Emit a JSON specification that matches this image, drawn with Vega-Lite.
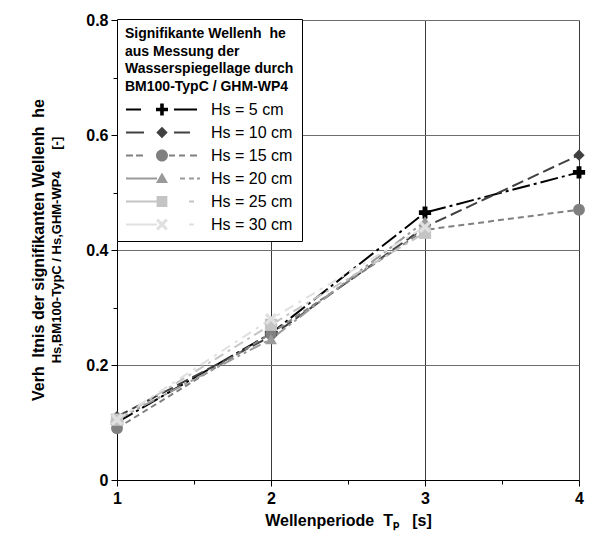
{
  "$schema": "https://vega.github.io/schema/vega-lite/v6.json",
  "width": 462,
  "height": 460,
  "autosize": "none",
  "padding": {"left": 117, "top": 20, "right": 16, "bottom": 58},
  "background": "white",
  "config": {
    "font": "Liberation Sans",
    "view": {"stroke": null},
    "legend": {
      "orient": "none",
      "legendX": 0,
      "legendY": -1,
      "titleFontSize": 14,
      "titleFontWeight": "bold",
      "titleColor": "black",
      "titleFont": "Liberation Sans",
      "titleLineHeight": 17.5,
      "titleLimit": 400,
      "titlePadding": 8,
      "labelFontSize": 16,
      "labelColor": "black",
      "labelFont": "Liberation Sans",
      "labelOffset": 70,
      "labelLimit": 200,
      "symbolSize": 144,
      "symbolStrokeWidth": 0,
      "symbolOpacity": 1,
      "strokeColor": "black",
      "fillColor": "white",
      "padding": 8,
      "rowPadding": 7,
      "cornerRadius": 0
    }
  },
  "title": {
    "text": "Verh\u00a0\u00a0ltnis der signifikanten Wellenh\u00a0\u00a0he",
    "subtitle": "Hs,BM100-TypC / Hs,GHM-WP4\u00a0\u00a0\u00a0\u00a0\u00a0\u00a0[-]",
    "orient": "left",
    "anchor": "middle",
    "font": "Liberation Sans",
    "fontSize": 16,
    "fontWeight": "bold",
    "color": "black",
    "subtitleFont": "Liberation Sans",
    "subtitleFontSize": 13,
    "subtitleFontWeight": "bold",
    "subtitleColor": "black",
    "subtitlePadding": 4,
    "offset": 22
  },
  "resolve": {"legend": {"color": "independent", "shape": "independent"}},
  "data": {
    "values": [
      {"T": 1, "V": 0.100, "Hs": "Hs = 5 cm"},
      {"T": 2, "V": 0.255, "Hs": "Hs = 5 cm"},
      {"T": 3, "V": 0.465, "Hs": "Hs = 5 cm"},
      {"T": 4, "V": 0.535, "Hs": "Hs = 5 cm"},
      {"T": 1, "V": 0.110, "Hs": "Hs = 10 cm"},
      {"T": 2, "V": 0.250, "Hs": "Hs = 10 cm"},
      {"T": 3, "V": 0.440, "Hs": "Hs = 10 cm"},
      {"T": 4, "V": 0.565, "Hs": "Hs = 10 cm"},
      {"T": 1, "V": 0.090, "Hs": "Hs = 15 cm"},
      {"T": 2, "V": 0.255, "Hs": "Hs = 15 cm"},
      {"T": 3, "V": 0.435, "Hs": "Hs = 15 cm"},
      {"T": 4, "V": 0.470, "Hs": "Hs = 15 cm"},
      {"T": 1, "V": 0.105, "Hs": "Hs = 20 cm"},
      {"T": 2, "V": 0.245, "Hs": "Hs = 20 cm"},
      {"T": 3, "V": 0.450, "Hs": "Hs = 20 cm"},
      {"T": 1, "V": 0.105, "Hs": "Hs = 25 cm"},
      {"T": 2, "V": 0.270, "Hs": "Hs = 25 cm"},
      {"T": 3, "V": 0.430, "Hs": "Hs = 25 cm"},
      {"T": 1, "V": 0.105, "Hs": "Hs = 30 cm"},
      {"T": 2, "V": 0.280, "Hs": "Hs = 30 cm"},
      {"T": 3, "V": 0.440, "Hs": "Hs = 30 cm"}
    ]
  },
  "encoding": {
    "x": {
      "field": "T",
      "type": "quantitative",
      "scale": {"domain": [1, 4], "nice": false, "zero": false},
      "axis": {
        "title": "Wellenperiode\u00a0\u00a0Tₚ\u00a0\u00a0\u00a0[s]",
        "titleFont": "Liberation Sans",
        "titleFontSize": 16,
        "titleFontWeight": "bold",
        "titleColor": "black",
        "titlePadding": 6,
        "values": [1, 1.5, 2, 2.5, 3, 3.5, 4],
        "labelExpr": "datum.value % 1 == 0 ? format(datum.value, 'd') : ''",
        "labelFont": "Liberation Sans",
        "labelFontSize": 16,
        "labelFontWeight": "bold",
        "labelColor": "black",
        "labelPadding": 4,
        "labelFlush": false,
        "labelOverlap": false,
        "domainColor": "black",
        "domainWidth": 1,
        "tickColor": "black",
        "tickSize": {"condition": {"test": "datum.value % 1 != 0", "value": 4}, "value": 6},
        "grid": true,
        "gridColor": "#3a3a3a",
        "gridWidth": 1,
        "gridOpacity": {"condition": {"test": "datum.value % 1 != 0 || datum.value == 1", "value": 0}, "value": 1}
      }
    },
    "y": {
      "field": "V",
      "type": "quantitative",
      "scale": {"domain": [0, 0.8], "nice": false},
      "axis": {
        "title": null,
        "values": [0, 0.1, 0.2, 0.3, 0.4, 0.5, 0.6, 0.7, 0.8],
        "labelExpr": "round(datum.value * 10) % 2 != 0 ? '' : (datum.value == 0 ? '0' : format(datum.value, '.1f'))",
        "labelFont": "Liberation Sans",
        "labelFontSize": 16,
        "labelFontWeight": "bold",
        "labelColor": "black",
        "labelPadding": 3,
        "labelOverlap": false,
        "labelFlush": false,
        "domainColor": "black",
        "domainWidth": 1,
        "tickColor": "black",
        "tickSize": {"condition": {"test": "round(datum.value * 10) % 2 != 0", "value": 4}, "value": 6},
        "grid": true,
        "gridColor": "#6e6e6e",
        "gridWidth": 1.2,
        "gridOpacity": {"condition": {"test": "round(datum.value * 10) % 2 != 0 || datum.value == 0", "value": 0}, "value": 1}
      }
    }
  },
  "layer": [
    {
      "mark": {"type": "line", "strokeWidth": 2},
      "encoding": {
        "color": {
          "field": "Hs",
          "type": "nominal",
          "scale": {
            "domain": ["Hs = 5 cm", "Hs = 10 cm", "Hs = 15 cm", "Hs = 20 cm", "Hs = 25 cm", "Hs = 30 cm"],
            "range": ["#000000", "#404040", "#808080", "#9a9a9a", "#c4c4c4", "#e0e0e0"]
          },
          "legend": null
        },
        "strokeDash": {
          "field": "Hs",
          "type": "nominal",
          "scale": {
            "domain": ["Hs = 5 cm", "Hs = 10 cm", "Hs = 15 cm", "Hs = 20 cm", "Hs = 25 cm", "Hs = 30 cm"],
            "range": [[18, 4, 3, 4], [12, 5], [6, 4], [12, 4, 3, 4, 3, 4], [10, 5, 3, 5], [10, 6, 3, 6]]
          },
          "legend": null
        }
      }
    },
    {
      "mark": {"type": "point", "filled": true, "opacity": 0, "size": 10},
      "encoding": {
        "color": {
          "field": "Hs",
          "type": "nominal",
          "legend": {
            "title": ["Signifikante Wellenh\u00a0\u00a0he", "aus Messung der", "Wasserspiegellage durch", "BM100-TypC / GHM-WP4"]
          }
        },
        "shape": {
          "field": "Hs",
          "type": "nominal",
          "scale": {
            "domain": ["Hs = 5 cm", "Hs = 10 cm", "Hs = 15 cm", "Hs = 20 cm", "Hs = 25 cm", "Hs = 30 cm"],
            "range": [
              "M-1.17,-0.17H1.33V0.17H-1.17Z M6.83,-0.17H10.67V0.17H6.83Z M3.83,-0.3H5.83V0.3H3.83Z M4.53,-1H5.13V1H4.53Z",
              "M-1.17,-0.17H1.83V0.17H-1.17Z M6.83,-0.17H9.5V0.17H6.83Z M4.83,-0.95L5.78,0L4.83,0.95L3.88,0Z",
              "M-1.17,-0.17H0V0.17H-1.17Z M0.5,-0.17H1.67V0.17H0.5Z M6.0,-0.17H7.0V0.17H6.0Z M7.67,-0.17H8.67V0.17H7.67Z M9.5,-0.17H10.67V0.17H9.5Z M3.83,0A1,1 0 1,1 5.83,0A1,1 0 1,1 3.83,0Z",
              "M-1.17,-0.17H4.0V0.17H-1.17Z M7.83,-0.17H8.67V0.17H7.83Z M9.33,-0.17H10.17V0.17H9.33Z M10.67,-0.17H11.17V0.17H10.67Z M4.83,-1L5.83,0.75L3.83,0.75Z",
              "M-1.17,-0.17H4.0V0.17H-1.17Z M9.33,-0.17H10.17V0.17H9.33Z M3.93,-0.9H5.73V0.9H3.93Z",
              "M-1.17,-0.17H4.0V0.17H-1.17Z M9.33,-0.17H10.17V0.17H9.33Z M4.21,-0.98L5.81,0.62L5.45,0.98L3.85,-0.62Z M3.85,0.62L5.45,-0.98L5.81,-0.62L4.21,0.98Z"
            ]
          },
          "legend": {
            "title": ["Signifikante Wellenh\u00a0\u00a0he", "aus Messung der", "Wasserspiegellage durch", "BM100-TypC / GHM-WP4"]
          }
        }
      }
    },
    {
      "transform": [{"filter": "datum.Hs == 'Hs = 5 cm'"}],
      "mark": {"type": "point", "filled": true, "opacity": 1, "shape": "cross", "size": 150},
      "encoding": {"color": {"field": "Hs", "type": "nominal", "legend": null}}
    },
    {
      "transform": [{"filter": "datum.Hs == 'Hs = 10 cm'"}],
      "mark": {"type": "point", "filled": true, "opacity": 1, "shape": "diamond", "size": 130},
      "encoding": {"color": {"field": "Hs", "type": "nominal", "legend": null}}
    },
    {
      "transform": [{"filter": "datum.Hs == 'Hs = 15 cm'"}],
      "mark": {"type": "point", "filled": true, "opacity": 1, "shape": "circle", "size": 140},
      "encoding": {"color": {"field": "Hs", "type": "nominal", "legend": null}}
    },
    {
      "transform": [{"filter": "datum.Hs == 'Hs = 20 cm'"}],
      "mark": {"type": "point", "filled": true, "opacity": 1, "shape": "triangle-up", "size": 140},
      "encoding": {"color": {"field": "Hs", "type": "nominal", "legend": null}}
    },
    {
      "transform": [{"filter": "datum.Hs == 'Hs = 25 cm'"}],
      "mark": {"type": "point", "filled": true, "opacity": 1, "shape": "square", "size": 150},
      "encoding": {"color": {"field": "Hs", "type": "nominal", "legend": null}}
    },
    {
      "transform": [{"filter": "datum.Hs == 'Hs = 30 cm'"}],
      "mark": {"type": "point", "filled": true, "opacity": 1, "shape": "M-0.62,-1L0,-0.38L0.62,-1L1,-0.62L0.38,0L1,0.62L0.62,1L0,0.38L-0.62,1L-1,0.62L-0.38,0L-1,-0.62Z", "size": 150},
      "encoding": {"color": {"field": "Hs", "type": "nominal", "legend": null}}
    }
  ]
}
